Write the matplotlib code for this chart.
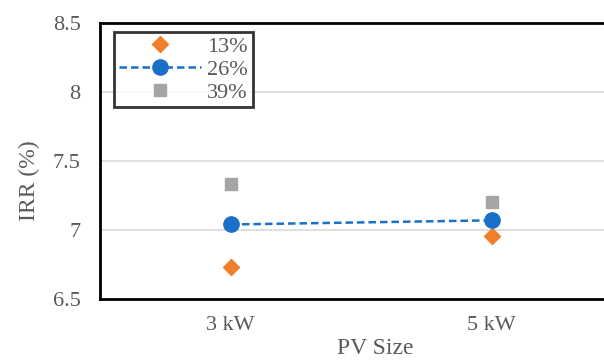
import matplotlib.pyplot as plt

plt.rcParams['font.family'] = ['Liberation Serif', 'DejaVu Serif']

# IRR by PV size for three cases
sizes = ['3 kW', '5 kW']
irr_13 = [6.73, 6.96]
irr_26 = [7.04, 7.07]
irr_39 = [7.33, 7.20]

txt = '#595959'

fig = plt.figure(figsize=(6.04, 3.6), dpi=100)
ax = fig.add_axes([100 / 604, 61 / 360, 522 / 604, 276 / 360])

x = [0, 1]
ax.plot(x, irr_13, linestyle='none', marker='D', markersize=8.5,
        color='#f07f2c', label='13%', zorder=3)
ax.plot(x, irr_26, linestyle=(0, (3, 1.6)), linewidth=1.8, marker='o',
        markersize=11, color='#1a6fc9', label='26%', zorder=3)
ax.plot(x, irr_39, linestyle='none', marker='s', markersize=8.5,
        color='#a5a5a5', label='39%', zorder=3)

ax.set_xlim(-0.5, 1.5)
ax.set_ylim(6.5, 8.5)
ax.set_xticks(x)
ax.set_xticklabels(sizes)
ax.set_yticks([6.5, 7, 7.5, 8, 8.5])
ax.set_yticklabels(['6.5', '7', '7.5', '8', '8.5'])
ax.yaxis.grid(True, color='#d9d9d9', linewidth=1.2)
ax.set_axisbelow(True)

for side in ['left', 'top', 'bottom', 'right']:
    ax.spines[side].set_linewidth(2)
    ax.spines[side].set_color('black')

ax.tick_params(length=0, labelsize=16, colors=txt)
ax.tick_params(axis='y', pad=14)
ax.tick_params(axis='x', pad=12)

ax.set_ylabel('IRR (%)', fontsize=17, color=txt)
ax.yaxis.set_label_coords(-0.115, 0.43)
ax.set_xlabel('PV Size', fontsize=17, color=txt)
ax.xaxis.set_label_coords(0.527, -0.143)

leg = ax.legend(loc='upper left', bbox_to_anchor=(0.027, 0.967),
                fancybox=False, edgecolor='black', fontsize=16,
                handlelength=3.7, handletextpad=0.3, labelspacing=0.1,
                borderpad=0.2, borderaxespad=0)
leg.get_frame().set_linewidth(2)
for t in leg.get_texts():
    t.set_color(txt)

fig.savefig('out.png', dpi=100)
